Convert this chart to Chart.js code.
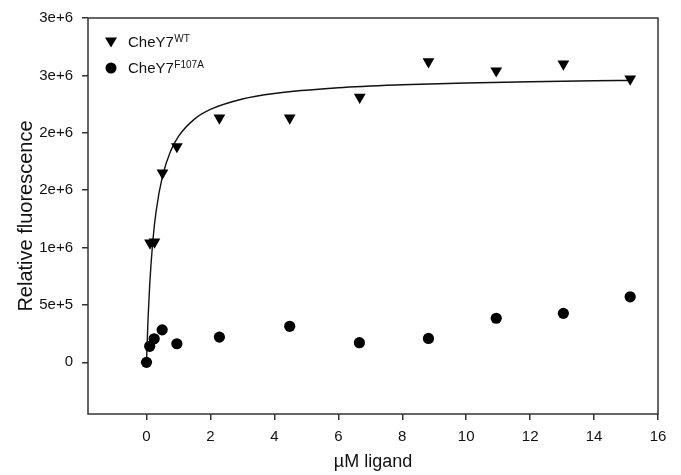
<!DOCTYPE html>
<html>
<head>
<meta charset="utf-8">
<script src="https://cdn.jsdelivr.net/npm/chart.js@4"></script>
<style>
  body { margin: 0; background: #fff; }
  #chart-box { width: 681px; height: 475px; }
</style>
</head>
<body>
<div id="chart-box"><canvas id="binding-chart" width="681" height="475"></canvas></div>
<script>
// Data
const wt_x = [0.11, 0.25, 0.5, 0.95, 2.28, 4.48, 6.67, 8.82, 10.94, 13.04, 15.13];
const wt_y = [1040000, 1050000, 1650000, 1880000, 2130000, 2130000, 2310000, 2620000, 2540000, 2600000, 2470000];

const mut_x = [0, 0.1, 0.24, 0.49, 0.95, 2.28, 4.48, 6.66, 8.82, 10.94, 13.04, 15.13];
const mut_y = [0, 140000, 205000, 283000, 162000, 220000, 314000, 171000, 208000, 384000, 427000, 571000];

// fitted curve
const fit_x = [0, 0.05, 0.1, 0.2, 0.3, 0.5, 0.75, 1, 1.5, 2, 3, 4, 6, 8, 10, 12, 14, 15.13];
const fit_y = [0, 390000, 676000, 1064000, 1316000, 1623000, 1838000, 1969000, 2119000, 2203000, 2294000, 2342000, 2392000, 2418000, 2434000, 2445000, 2453000, 2456000];

const x_ticks = [0, 2, 4, 6, 8, 10, 12, 14, 16];
const y_ticks = [0, 500000, 1000000, 1500000, 2000000, 2500000, 3000000];
const y_tick_labels = ['0', '5e+5', '1e+6', '2e+6', '2e+6', '3e+6', '3e+6'];

const FONT = '"Liberation Sans", Arial, sans-serif';
const AXIS_COLOR = '#333';

function toPoints(xs, ys) {
    return xs.map((x, i) => ({ x: x, y: ys[i] }));
}

// frame, axis titles and the legend with superscripts
const decorations = {
    id: 'decorations',
    afterDraw(chart) {
        const ctx = chart.ctx;
        const a = chart.chartArea;
        ctx.save();
        ctx.strokeStyle = AXIS_COLOR;
        ctx.lineWidth = 1.5;
        ctx.strokeRect(a.left, a.top, a.right - a.left, a.bottom - a.top);

        ctx.fillStyle = '#111';
        ctx.font = '18px ' + FONT;
        ctx.textAlign = 'center';
        ctx.textBaseline = 'middle';
        ctx.fillText('\u00b5M ligand', (a.left + a.right) / 2, 462);

        ctx.save();
        ctx.translate(26, (a.top + a.bottom) / 2);
        ctx.rotate(-Math.PI / 2);
        ctx.font = '20px ' + FONT;
        ctx.fillText('Relative fluorescence', 0, 0);
        ctx.restore();

        // legend
        const rows = [
            { y: 42, sup: 'WT', style: 'triangle' },
            { y: 68, sup: 'F107A', style: 'circle' }
        ];
        rows.forEach(r => {
            ctx.fillStyle = '#000';
            ctx.beginPath();
            if (r.style === 'triangle') {
                ctx.moveTo(105, r.y - 4.5);
                ctx.lineTo(117, r.y - 4.5);
                ctx.lineTo(111, r.y + 5.5);
                ctx.closePath();
            } else {
                ctx.arc(111, r.y, 5.5, 0, Math.PI * 2);
            }
            ctx.fill();
            ctx.fillStyle = '#111';
            ctx.textAlign = 'left';
            ctx.textBaseline = 'middle';
            ctx.font = '15px ' + FONT;
            ctx.fillText('CheY7', 128, r.y + 1);
            const w = ctx.measureText('CheY7').width;
            ctx.font = '10px ' + FONT;
            ctx.fillText(r.sup, 128 + w + 0.5, r.y - 3);
        });
        ctx.restore();
    }
};

const chart_instance = new Chart(document.getElementById('binding-chart'), {
    type: 'scatter',
    data: {
        datasets: [
            {
                label: 'fit',
                data: toPoints(fit_x, fit_y),
                showLine: true,
                tension: 0.4,
                cubicInterpolationMode: 'monotone',
                borderColor: '#111',
                borderWidth: 1.4,
                pointRadius: 0,
                order: 3
            },
            {
                label: 'CheY7 WT',
                data: toPoints(wt_x, wt_y),
                pointStyle: 'triangle',
                rotation: 180,
                pointRadius: 6.8,
                backgroundColor: '#000',
                borderColor: '#000',
                borderWidth: 0,
                order: 1
            },
            {
                label: 'CheY7 F107A',
                data: toPoints(mut_x, mut_y),
                pointStyle: 'circle',
                pointRadius: 5.6,
                backgroundColor: '#000',
                borderColor: '#000',
                borderWidth: 0,
                order: 2
            }
        ]
    },
    options: {
        responsive: false,
        animation: false,
        layout: { padding: { top: 15, right: 23, left: 0, bottom: 0 } },
        plugins: {
            legend: { display: false },
            tooltip: { enabled: false }
        },
        scales: {
            x: {
                type: 'linear',
                min: -1.83,
                max: 16,
                afterBuildTicks: scale => { scale.ticks = x_ticks.map(v => ({ value: v })); },
                afterFit: scale => { scale.height = 61; },
                border: { display: false },
                grid: { drawOnChartArea: false, drawTicks: true, tickLength: 6, color: AXIS_COLOR, lineWidth: 1.5 },
                ticks: {
                    padding: 8,
                    maxRotation: 0,
                    color: '#111',
                    font: { family: FONT, size: 15 },
                    callback: v => String(v)
                }
            },
            y: {
                type: 'linear',
                min: -450000,
                max: 3000000,
                afterBuildTicks: scale => { scale.ticks = y_ticks.map(v => ({ value: v })); },
                afterFit: scale => { scale.width = 88; },
                border: { display: false },
                grid: { drawOnChartArea: false, drawTicks: true, tickLength: 6, color: AXIS_COLOR, lineWidth: 1.5 },
                ticks: {
                    padding: 9,
                    color: '#111',
                    font: { family: FONT, size: 15 },
                    callback: (v, i) => y_tick_labels[i]
                }
            }
        }
    },
    plugins: [decorations]
});
</script>
</body>
</html>
